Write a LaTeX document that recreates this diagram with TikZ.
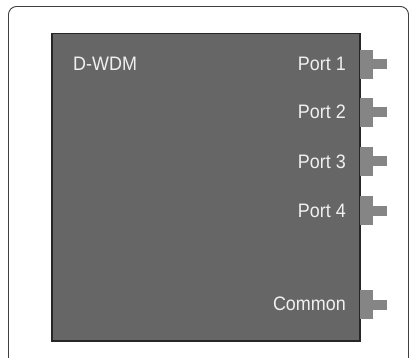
\documentclass[tikz,border=0pt]{standalone}
\usepackage{fontspec}
\setmainfont{Liberation Sans}[FakeStretch=0.92]
\begin{document}
\begin{tikzpicture}[x=1pt,y=-1pt,
  lbl/.style={text=white!94!black,font=\fontsize{19.5}{20}\selectfont,inner sep=0pt,anchor=base east},
  conn/.style={fill=black!48,draw=none}]
\useasboundingbox (0,0) rectangle (409,358);
\clip (0,0) rectangle (409,358);
\draw[black!75,line width=0.9pt,rounded corners=8pt] (8.5,6.5) rectangle (408.5,380);
\node[draw=black!85,fill=black!60,line width=1.5pt,minimum width=308pt,minimum height=307pt,inner sep=0pt,anchor=north west] (box) at (51,33) {};
\node[lbl,anchor=base west] (title) at (73,71) {D-WDM};
\foreach \n/\t/\b/\txt in {p1/50/71/Port 1, p2/98/119/Port 2, p3/147/168/Port 3, p4/196/217/Port 4, pc/290/310/Common}{
  \node[lbl] (\n) at (346,\b) {\txt};
  \fill[conn] (360,\t) rectangle (373,\t+29);
  \fill[conn] (373,\t+9.5) rectangle (387,\t+19.5);
}
\end{tikzpicture}
\end{document}
